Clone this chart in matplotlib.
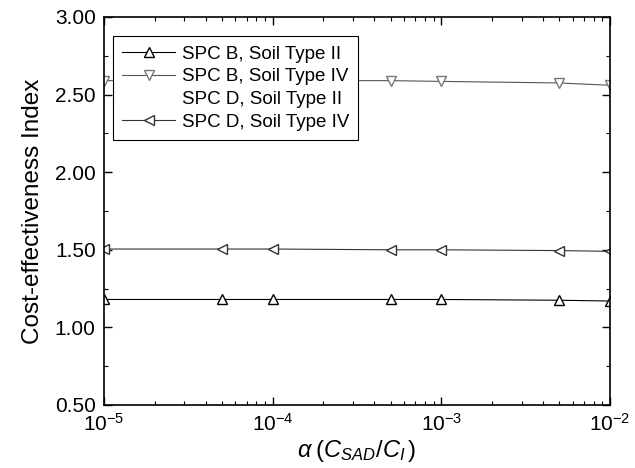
import numpy as np
import matplotlib.pyplot as plt
from matplotlib.ticker import MultipleLocator

plt.rcParams['font.family'] = ['Liberation Sans', 'DejaVu Sans']
plt.rcParams['mathtext.fontset'] = 'custom'
plt.rcParams['mathtext.rm'] = 'Liberation Sans'
plt.rcParams['mathtext.it'] = 'Liberation Sans:italic'
plt.rcParams['axes.unicode_minus'] = False

alpha = [1e-5, 5e-5, 1e-4, 5e-4, 1e-3, 5e-3, 1e-2]
b_ii = [1.18, 1.18, 1.18, 1.18, 1.18, 1.175, 1.17]
b_iv = [2.59, 2.59, 2.59, 2.59, 2.585, 2.575, 2.56]
d_ii = [1.18, 1.18, 1.18, 1.18, 1.18, 1.175, 1.17]
d_iv = [1.505, 1.505, 1.505, 1.50, 1.50, 1.495, 1.49]

xticks = [1e-5, 1e-4, 1e-3, 1e-2]
xlabels = ["$10^{-5}$", "$10^{-4}$", "$10^{-3}$", "$10^{-2}$"]
yticks = [0.5, 1.0, 1.5, 2.0, 2.5, 3.0]
ylabels = ["0.50", "1.00", "1.50", "2.00", "2.50", "3.00"]

fig = plt.figure(figsize=(6.35, 4.68), dpi=100)
ax = fig.add_axes([104/635, 1-405/468, (610-104)/635, (405-17)/468])

ax.plot(alpha, b_ii, "-", color="black", lw=0.8, marker="^", mfc="white", mec="black", ms=6.5, label="SPC B, Soil Type II")
ax.plot(alpha, b_iv, "-", color="#555555", lw=0.8, marker="v", mfc="white", mec="#777777", ms=6.5, label="SPC B, Soil Type IV")
ax.plot(alpha, d_ii, linestyle="none", marker="none", color="none", label="SPC D, Soil Type II")
ax.plot(alpha, d_iv, "-", color="#333333", lw=0.8, marker="<", mfc="white", mec="#333333", ms=6.5, label="SPC D, Soil Type IV")

ax.set_xscale("log")
ax.set_xlim(1e-5, 1e-2)
ax.set_ylim(0.5, 3.0)
ax.set_xticks(xticks)
ax.set_xticklabels(xlabels)
ax.set_yticks(yticks)
ax.set_yticklabels(ylabels)
ax.yaxis.set_minor_locator(MultipleLocator(0.25))
ax.tick_params(which="both", direction="in", top=True, right=True, labelsize=15)
ax.tick_params(which="major", length=6, width=1)
ax.tick_params(which="minor", length=3, width=0.8)
ax.tick_params(axis="x", pad=6)
ax.tick_params(axis="y", pad=6)
for s in ax.spines.values():
    s.set_linewidth(1.2)

ax.set_xlabel(r"$\alpha\;(C_{SAD}/C_{I}\,)$", fontsize=17, labelpad=2)
ax.set_ylabel("Cost-effectiveness Index", fontsize=17.5, labelpad=8)

leg = ax.legend(loc="upper left", bbox_to_anchor=(0.018, 0.951), borderaxespad=0,
                fontsize=13.5, frameon=True, framealpha=1, fancybox=False,
                edgecolor="black", handlelength=2.8, borderpad=0.5,
                labelspacing=0.3, handletextpad=0.35)
leg.get_frame().set_linewidth(0.8)

fig.savefig("out.png", dpi=100)
